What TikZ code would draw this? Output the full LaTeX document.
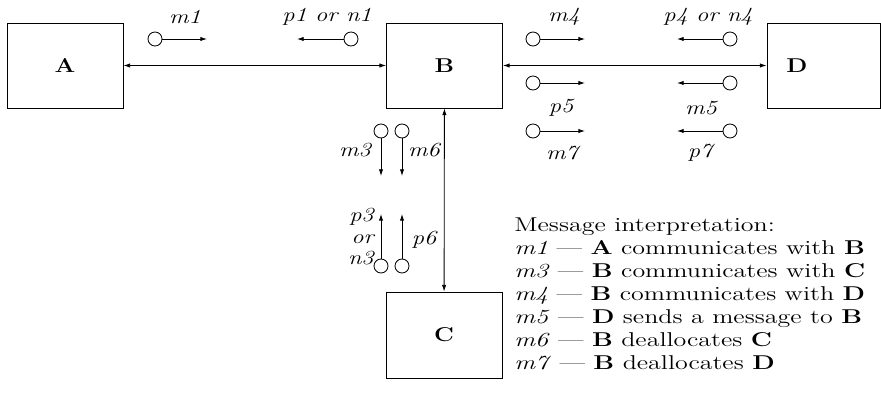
\documentclass[tikz,border=0pt]{standalone}
\usepackage{graphicx}
\usepackage{tikz}
\usetikzlibrary{arrows.meta}
\newcommand{\stretchtext}[2][1.22]{\scalebox{#1}[1]{#2}}
\begin{document}
\begin{tikzpicture}[x=0.6pt,y=-0.6pt]
      \tikzstyle{box} = [draw, rectangle, minimum width=69.6pt,
                         minimum height=51pt, font=\fontsize{12}{14}\bfseries,
                         inner sep=0pt, line width=0.5pt]
      \tikzstyle{msg} = [draw, circle, minimum size=8.4pt,
                         inner sep=0pt, line width=0.5pt]
      \tikzstyle{lbl} = [font=\fontsize{12}{14}\itshape, inner sep=0pt]
      \tikzstyle{link} = [line width=0.5pt,
                          {Latex[length=4pt,width=2.6pt]}-{Latex[length=4pt,width=2.6pt]}]
      \tikzstyle{send} = [line width=0.5pt, -{Latex[length=4pt,width=2.6pt]}]
      \tikzstyle{legend} = [anchor=base west, inner sep=0pt,
                            font=\fontsize{12}{14}\selectfont]

      \useasboundingbox (0,0) rectangle (881,401);

      % processes
      \node[box] (A) at (65,65.5)  {\stretchtext{A}};
      \node[box] (B) at (444.5,65.5) {\stretchtext{B}};
      \node[box, minimum width=67.8pt] (D) at (823.5,65.5) {};
      \node[font=\fontsize{12}{14}\bfseries] (Dname) at (797,65.5) {\stretchtext{D}};
      \node[box, minimum height=51.6pt] (C) at (444,335) {\stretchtext{C}};

      \draw[link] (A) -- (B);
      \draw[link] (B) -- (D);
      \draw[link] (B) -- (C);

      % messages between A and B
      \node[msg] (m1) at (155,39) {};
      \coordinate (m1end) at (207,39);
      \draw[send] (m1) -- (m1end);
      \node[lbl] (m1lbl) at (185,17) {\stretchtext{m1}};
      \node[msg] (p1) at (351,39) {};
      \coordinate (p1end) at (297,39);
      \draw[send] (p1) -- (p1end);
      \node[lbl] (p1lbl) at (327,17) {\stretchtext{p1 or n1}};

      % messages between B and D
      \node[msg] (m4) at (533,39) {};
      \coordinate (m4end) at (585,39);
      \draw[send] (m4) -- (m4end);
      \node[lbl] (m4lbl) at (564,17) {\stretchtext{m4}};
      \node[msg] (p4) at (730,39) {};
      \coordinate (p4end) at (677,39);
      \draw[send] (p4) -- (p4end);
      \node[lbl] (p4lbl) at (708,17) {\stretchtext{p4 or n4}};

      \node[msg] (p5) at (533,83) {};
      \coordinate (p5end) at (585,83);
      \draw[send] (p5) -- (p5end);
      \node[lbl] (p5lbl) at (561,108) {\stretchtext{p5}};
      \node[msg] (m5) at (730,83) {};
      \coordinate (m5end) at (677,83);
      \draw[send] (m5) -- (m5end);
      \node[lbl] (m5lbl) at (701,108) {\stretchtext{m5}};

      \node[msg] (m7) at (533,131) {};
      \coordinate (m7end) at (585,131);
      \draw[send] (m7) -- (m7end);
      \node[lbl] (m7lbl) at (562,153) {\stretchtext{m7}};
      \node[msg] (p7) at (730,131) {};
      \coordinate (p7end) at (677,131);
      \draw[send] (p7) -- (p7end);
      \node[lbl] (p7lbl) at (700,153) {\stretchtext{p7}};

      % messages between B and C
      \node[msg] (m3) at (381,131) {};
      \coordinate (m3end) at (381,176);
      \draw[send] (m3) -- (m3end);
      \node[lbl] (m3lbl) at (355,150) {\stretchtext{m3}};
      \node[msg] (m6) at (402,131) {};
      \coordinate (m6end) at (402,176);
      \draw[send] (m6) -- (m6end);
      \node[lbl] (m6lbl) at (424,150) {\stretchtext{m6}};

      \node[msg] (p3) at (381,266) {};
      \coordinate (p3end) at (381,214);
      \draw[send] (p3) -- (p3end);
      \node[lbl, anchor=east] (p3lbl) at (374,239)
            {\stretchtext{\renewcommand{\arraystretch}{0.92}%
             \begin{tabular}{@{}r@{}}p3\\or\\n3\end{tabular}}};
      \node[msg] (p6) at (402,266) {};
      \coordinate (p6end) at (402,214);
      \draw[send] (p6) -- (p6end);
      \node[lbl] (p6lbl) at (424,240) {\stretchtext{p6}};

      % legend
      \node[legend] (l0) at (514,232) {\stretchtext[1.3]{Message interpretation:}};
      \node[legend] (l1) at (514,255) {\stretchtext[1.3]{\textit{m1} --- \textbf{A} communicates with \textbf{B}}};
      \node[legend] (l2) at (514,278) {\stretchtext[1.3]{\textit{m3} --- \textbf{B} communicates with \textbf{C}}};
      \node[legend] (l3) at (514,301) {\stretchtext[1.3]{\textit{m4} --- \textbf{B} communicates with \textbf{D}}};
      \node[legend] (l4) at (514,324) {\stretchtext[1.3]{\textit{m5} --- \textbf{D} sends a message to \textbf{B}}};
      \node[legend] (l5) at (514,347) {\stretchtext[1.3]{\textit{m6} --- \textbf{B} deallocates \textbf{C}}};
      \node[legend] (l6) at (514,370) {\stretchtext[1.3]{\textit{m7} --- \textbf{B} deallocates \textbf{D}}};
    \end{tikzpicture}
\end{document}
